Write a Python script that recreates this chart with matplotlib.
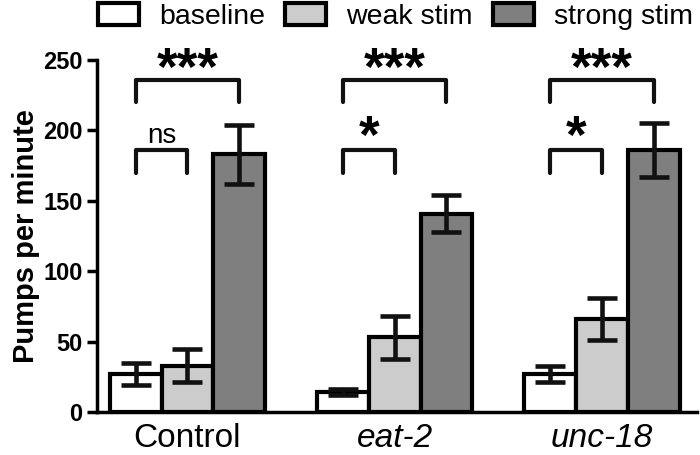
import numpy as np
import matplotlib.pyplot as plt

plt.rcParams["font.family"] = ["Liberation Sans", "DejaVu Sans"]

# Data
groups = ["Control", "eat-2", "unc-18"]
conditions = ["baseline", "weak stim", "strong stim"]
means = {
    "baseline": [27, 14, 27],
    "weak stim": [33, 53, 66],
    "strong stim": [183, 141, 186],
}
errors = {
    "baseline": [8, 2, 6],
    "weak stim": [12, 15, 15],
    "strong stim": [21, 13, 19],
}
colors = {"baseline": "#ffffff", "weak stim": "#cccccc", "strong stim": "#7f7f7f"}

# significance brackets: baseline vs strong (top), baseline vs weak (low)
top_labels = ["***", "***", "***"]
low_labels = ["ns", "*", "*"]
top_bracket = 236
low_bracket = 186
leg_drop = 16

fig = plt.figure(figsize=(7, 4.55), dpi=100)
ax = fig.add_axes([0.139, 0.0945, 0.857, 0.7735])

x = np.arange(len(groups))
width = 0.25
lw = 3.0

for i, cond in enumerate(conditions):
    pos = x + (i - 1) * width
    ax.bar(pos, means[cond], width, color=colors[cond], edgecolor="black",
           linewidth=lw, label=cond, zorder=2)
    ax.errorbar(pos, means[cond], yerr=errors[cond], fmt="none", ecolor="#111111",
                elinewidth=lw * 1.1, capsize=11, capthick=lw * 1.1, zorder=3)

for g in range(len(groups)):
    xb = x[g] - width
    xw = x[g]
    xs = x[g] + width
    ax.plot([xb, xb, xs, xs], [top_bracket - leg_drop, top_bracket, top_bracket, top_bracket - leg_drop],
            color="#111111", lw=lw, solid_joinstyle="round", solid_capstyle="round", clip_on=False)
    ax.text((xb + xs) / 2, top_bracket - 4, top_labels[g], ha="center", va="baseline",
            fontsize=38, fontweight="bold")
    ax.plot([xb, xb, xw, xw], [low_bracket - leg_drop, low_bracket, low_bracket, low_bracket - leg_drop],
            color="#111111", lw=lw, solid_joinstyle="round", solid_capstyle="round", clip_on=False)
    lbl = low_labels[g]
    if lbl == "ns":
        ax.text((xb + xw) / 2, low_bracket + 5, lbl, ha="center", va="baseline", fontsize=20)
    else:
        ax.text((xb + xw) / 2, low_bracket - 2, lbl, ha="center", va="baseline",
                fontsize=38, fontweight="bold")

ax.set_xlim(-0.435, 2.46)
ax.set_ylim(0, 250)
ax.set_yticks([0, 50, 100, 150, 200, 250])
ax.set_xticks(x)
ax.set_xticklabels(groups, fontsize=24)
for lab in ax.get_xticklabels()[1:]:
    lab.set_fontstyle("italic")
for lab in ax.get_yticklabels():
    lab.set_fontsize(17)
    lab.set_fontweight("bold")
ax.set_ylabel("Pumps per minute", fontsize=21, fontweight="bold", labelpad=2)

for side in ["top", "right"]:
    ax.spines[side].set_visible(False)
for side in ["left", "bottom"]:
    ax.spines[side].set_linewidth(2.5)
ax.tick_params(axis="y", width=2.5, length=7)
ax.tick_params(axis="x", length=0, pad=8)

fig.legend(loc="upper center", bbox_to_anchor=(0.565, 1.05), ncol=3, frameon=False,
           fontsize=20.5, handlelength=1.45, handleheight=0.8, handletextpad=0.7,
           columnspacing=0.7)

fig.savefig("out.png", dpi=100)
